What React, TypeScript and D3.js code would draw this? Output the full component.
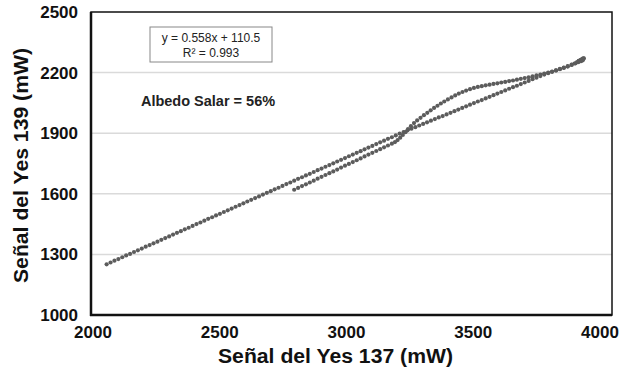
import React from "react";
import * as d3 from "d3";

const xTicks = [2000, 2500, 3000, 3500, 4000];
const yTicks = [1000, 1300, 1600, 1900, 2200, 2500];

// Branch 1 (straight path)
const mainX = [2060,2075,2090,2105,2120,2135,2150,2165,2180,2195,2210,2225,2240,2255,2270,2285,2300,2315,2330,2345,2360,2375,2390,2405,2420,2435,2450,2465,2480,2495,2510,2525,2540,2555,2570,2585,2600,2615,2630,2645,2660,2675,2690,2705,2720,2735,2750,2765,2780,2795,2810,2825,2840,2855,2870,2885,2900,2915,2930,2945,2960,2975,2990,3005,3020,3035,3050,3065,3080,3095,3110,3125,3140,3155,3170,3185,3200,3215,3230,3245,3260,3275,3290,3305,3320,3335,3350,3365,3380,3395,3410,3425,3440,3455,3470,3485,3500,3515,3530,3545,3560,3575,3590,3605,3620,3635,3650,3665,3680,3695,3710,3725,3740,3755,3770,3785,3800,3815,3830,3845,3860,3872,3882,3888];
const mainY = [1251,1260,1269,1277,1286,1295,1303,1312,1320,1329,1338,1346,1355,1363,1372,1381,1389,1398,1407,1415,1424,1432,1441,1450,1458,1467,1476,1484,1493,1501,1510,1518,1527,1536,1544,1553,1562,1570,1579,1587,1596,1605,1613,1622,1630,1639,1648,1656,1665,1674,1682,1691,1699,1708,1717,1725,1734,1742,1751,1760,1768,1777,1786,1794,1803,1811,1820,1829,1837,1846,1855,1863,1872,1880,1889,1898,1906,1914,1922,1930,1938,1946,1954,1962,1970,1978,1985,1993,2001,2009,2017,2025,2033,2041,2049,2057,2064,2072,2080,2088,2096,2104,2112,2120,2128,2135,2143,2151,2159,2167,2175,2183,2190,2197,2204,2211,2218,2225,2232,2239,2246,2252,2257,2261];

// Branch 2 (lower stub + upper curve)
const loopX = [2780,2795,2810,2825,2840,2855,2870,2885,2900,2915,2930,2945,2960,2975,2990,3005,3020,3035,3050,3065,3080,3095,3110,3125,3140,3155,3167,3177,3187,3197,3207,3217,3228,3240,3252,3265,3278,3291,3304,3317,3330,3343,3356,3370,3384,3398,3412,3426,3440,3455,3470,3485,3500,3515,3530,3545,3560,3575,3590,3605,3620,3635,3650,3665,3680,3695,3710,3725,3740,3755,3770,3785,3800,3815,3830,3845,3856,3866,3874,3880,3886,3890,3892,3888,3880,3872];
const loopY = [1620,1629,1638,1647,1656,1665,1675,1684,1693,1702,1711,1720,1730,1739,1748,1757,1766,1775,1785,1794,1803,1812,1821,1830,1839,1848,1856,1866,1878,1891,1905,1920,1935,1950,1963,1976,1989,2001,2013,2025,2036,2047,2057,2067,2077,2087,2096,2104,2111,2118,2124,2129,2133,2137,2140,2144,2147,2151,2154,2158,2161,2165,2169,2173,2177,2181,2186,2190,2195,2200,2205,2211,2217,2223,2230,2238,2245,2252,2258,2263,2268,2271,2270,2267,2262,2258];

const W = 620, H = 373;
const L = 91, R = 612, T = 12, B = 315;
const FONT = "'Liberation Sans', Arial, sans-serif";

export default function App() {
  const x = d3.scaleLinear().domain([2000, 4000]).range([L, R]);
  const xLab = d3.scaleLinear().domain([2000, 4000]).range([93, 600]);
  const y = d3.scaleLinear().domain([1000, 2500]).range([B, T]);
  const pts = [
    ...mainX.map((v, i) => [v, mainY[i]]),
    ...loopX.map((v, i) => [v, loopY[i]]),
  ];
  return (
    <svg width={W} height={H} style={{ position: "absolute", left: 0, top: 0, background: "#fff" }}>
      <rect x={0} y={0} width={W} height={H} fill="#fff" />
      {yTicks.slice(1, -1).map((t) => (
        <line key={t} x1={L} x2={R} y1={y(t)} y2={y(t)} stroke="#dadada" strokeWidth={1.5} />
      ))}
      {pts.map((p, i) => (
        <circle key={i} cx={x(p[0])} cy={y(p[1])} r={2.1} fill="#5c5c5c" />
      ))}
      <rect x={L} y={T} width={R - L} height={B - T} fill="none" stroke="#111" strokeWidth={1.5} />
      <line x1={L} x2={L} y1={T} y2={B + 1} stroke="#111" strokeWidth={2.5} />
      <line x1={L - 1} x2={R} y1={B} y2={B} stroke="#111" strokeWidth={2.5} />
      {yTicks.map((t) => (
        <text key={t} x={78} y={y(t) + 6} textAnchor="end" fontFamily={FONT} fontWeight="bold" fontSize={17} fill="#111">
          {t}
        </text>
      ))}
      {xTicks.map((t) => (
        <text key={t} x={xLab(t)} y={338} textAnchor="middle" fontFamily={FONT} fontWeight="bold" fontSize={17} fill="#111">
          {t}
        </text>
      ))}
      <text x={218} y={363} textLength={235} lengthAdjust="spacingAndGlyphs" fontFamily={FONT} fontWeight="bold" fontSize={19.5} fill="#111">
        Señal del Yes 137 (mW)
      </text>
      <text transform={`translate(28,283) rotate(-90)`} textLength={235} lengthAdjust="spacingAndGlyphs" fontFamily={FONT} fontWeight="bold" fontSize={19.5} fill="#111">
        Señal del Yes 139 (mW)
      </text>
      <rect x={150} y={27} width={122} height={35} fill="#fff" stroke="#888" strokeWidth={1} />
      <text x={211} y={42} textAnchor="middle" fontFamily={FONT} fontSize={12} fill="#222">
        y = 0.558x + 110.5
      </text>
      <text x={211} y={57} textAnchor="middle" fontFamily={FONT} fontSize={12} fill="#222">
        R² = 0.993
      </text>
      <text x={208} y={106} textAnchor="middle" fontFamily={FONT} fontWeight="bold" fontSize={14.5} fill="#222">
        Albedo Salar = 56%
      </text>
    </svg>
  );
}
